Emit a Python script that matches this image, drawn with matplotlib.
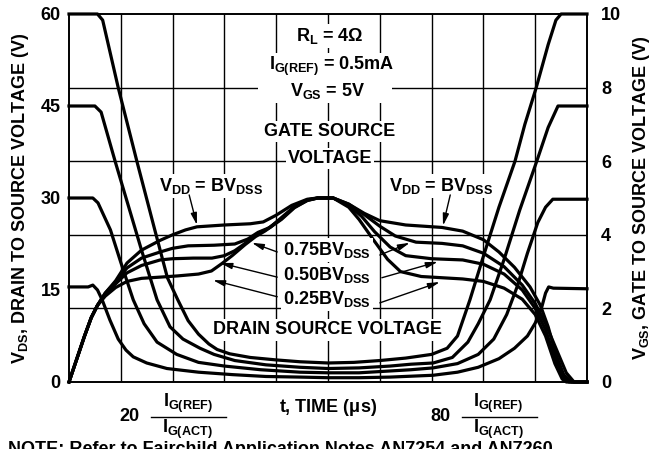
import matplotlib
matplotlib.use('Agg')
import matplotlib.pyplot as plt

plt.rcParams['font.family'] = ['Liberation Sans', 'DejaVu Sans']
plt.rcParams['font.weight'] = 'bold'
plt.rcParams['mathtext.fontset'] = 'custom'
plt.rcParams['mathtext.rm'] = 'Liberation Sans:bold'
plt.rcParams['mathtext.it'] = 'Liberation Sans:bold'
plt.rcParams['mathtext.bf'] = 'Liberation Sans:bold'
plt.rcParams['mathtext.default'] = 'rm'

# drain-source voltage curves (time us, volts), one per V_DD
vds_60_t = [0, 5.5, 6.5, 9.5, 13.1, 16.5, 19, 21, 23, 25, 27, 28.6, 31, 35, 40, 44.6, 50,
            55, 60, 65, 70, 73, 75, 77.4, 80, 83, 86.1, 88, 90.2, 92.5, 94, 95, 100]
vds_60_v = [60, 60, 59, 48, 36, 25, 17, 13.4, 10, 7.8, 6.2, 5.3, 4.6, 4.0, 3.6, 3.3, 3.1,
            3.2, 3.5, 3.9, 4.5, 5.5, 7.5, 13.4, 20.5, 28.5, 36, 42, 48, 55, 59, 60, 60]
vds_45_t = [0, 5, 6.2, 8.9, 11.4, 14, 17, 19.5, 22, 25.3, 28, 32, 38, 44.6, 50, 56, 62,
            66, 70.3, 74, 77, 79, 81.3, 84, 87, 90.3, 92.5, 94.4, 100]
vds_45_v = [45, 45, 44, 36, 28.9, 21.5, 13.4, 9, 7, 5.5, 4.5, 3.5, 2.8, 2.4, 2.2, 2.3, 2.6,
            2.9, 3.1, 4, 6.5, 9.5, 13.4, 20, 28, 36, 41.5, 45, 45]
vds_30_t = [0, 4.6, 5.6, 8, 10, 12.4, 14.5, 17, 20.8, 25, 30, 37, 44.6, 50, 56, 62, 66,
            70.3, 75, 79, 82, 84.5, 86.5, 88.5, 90.5, 92, 93.4, 100]
vds_30_v = [30, 30, 29.2, 24.8, 19.5, 13.4, 9.5, 6.5, 4.5, 3.2, 2.6, 2.0, 1.6, 1.5, 1.5,
            1.8, 2.0, 2.3, 3.0, 4.5, 7, 11, 15.5, 21, 26, 28.5, 29.8, 29.8]
vds_15_t = [0, 3.7, 4.6, 5.5, 6.4, 7.9, 9.5, 11, 12.4, 15, 18.9, 25, 31.6, 38, 44.6, 50,
            56, 62, 70.3, 75, 79, 83, 86, 88.5, 90, 91.2, 92, 92.6, 93.5, 100]
vds_15_v = [15.5, 15.5, 15.8, 15, 13.4, 10.1, 7, 5.2, 4.1, 3.1, 2.2, 1.6, 1.2, 0.9, 0.8,
            0.7, 0.7, 0.8, 1.1, 1.6, 2.4, 3.8, 5.5, 7.5, 9.6, 12, 14.5, 15.5, 15.3, 15.2]

# gate-source voltage curves, in drain-axis volts (gate volts x 6)
vgs_100_t = [0, 1, 2, 3, 4.3, 5.5, 7, 9, 11.2, 14, 17.6, 20, 22.5, 24.7, 30, 35, 37.5, 40,
             43, 46, 48, 51, 54, 57, 60, 65, 72, 76, 80, 83, 86, 89, 91, 92.5, 94, 95.5,
             97, 100]
vgs_100_v = [0, 2.5, 5, 7.5, 10.5, 12.5, 14.5, 16.5, 19.4, 21.5, 23.1, 24, 24.8, 25.3,
             25.6, 25.8, 26.1, 27.2, 28.8, 29.8, 30, 30, 29, 27.5, 26.3, 25.6, 25.2, 24.6,
             23.2, 21.2, 18.7, 15.5, 12.5, 9, 4.5, 1.2, 0, 0]
vgs_75_t = [0, 1, 2, 3, 4.3, 5.5, 7, 9, 11.2, 14, 17.6, 20, 23, 28, 32, 34.5, 36.5, 38.8,
            41, 43.5, 46, 48, 51, 54, 57, 60, 63, 67, 72, 76, 80, 84, 87.5, 90, 92, 94,
            96, 97.5, 100]
vgs_75_v = [0, 2.5, 5, 7.5, 10.5, 12.5, 14.5, 16.3, 18.6, 20.2, 21.2, 21.8, 22.2, 22.3,
            22.5, 23.3, 24.4, 25.2, 26.8, 28.6, 29.7, 30, 30, 29, 27.3, 25.4, 23.8, 22.8,
            22.6, 22.2, 21, 18.8, 15.8, 12.8, 9.5, 5.5, 1.5, 0, 0]
vgs_50_t = [0, 1, 2, 3, 4.3, 5.5, 7, 9, 11.2, 14, 17.6, 20, 24, 27.6, 30, 32, 34, 36,
            38.2, 41, 43.5, 46, 48, 51, 54, 56.5, 59, 62, 65, 70, 76, 80, 84, 87.5, 90,
            92, 93.8, 95.5, 96.5, 100]
vgs_50_v = [0, 2.5, 5, 7.5, 10.5, 12.5, 14.3, 16, 17.8, 19, 19.9, 20.1, 20.2, 20.2, 20.6,
            21.4, 22.6, 24, 24.9, 26.6, 28.5, 29.6, 30, 30, 28.8, 27, 24.5, 22, 20.6,
            20.1, 19.9, 19.2, 17.6, 15, 12, 8.5, 4, 0.8, 0, 0]
vgs_25_t = [0, 1, 2, 3, 4.3, 5.5, 7, 9, 11.2, 14, 17.6, 21, 25, 27.5, 29.5, 31.5, 34, 36,
            37.8, 41, 43.5, 46, 48, 51, 54, 56, 58.5, 61.5, 64, 68, 76, 80, 84, 87.5, 90,
            92, 93.8, 95.2, 96, 100]
vgs_25_v = [0, 2.5, 5, 7.5, 10.5, 12.5, 14, 15.4, 16.4, 16.9, 17.1, 17.3, 17.6, 18.1,
            19.3, 20.6, 22.4, 23.7, 24.6, 26.5, 28.4, 29.6, 30, 30, 28.5, 26.5, 23.5, 20,
            18, 17.2, 16.8, 16.4, 15.3, 13.5, 11, 7.5, 3, 0.5, 0, 0]

vds_ticks = [0, 15, 30, 45, 60]
vgs_ticks = [0, 2, 4, 6, 8, 10]
time_grid = [10, 20, 30, 40, 50, 60, 70, 80, 90]
time_labels = [20, 80]

FS = 13

fig = plt.figure(figsize=(6.57, 4.49), dpi=100)
ax = fig.add_axes([69 / 657, 1 - 382 / 449, 518 / 657, 368 / 449])

# grid: verticals every 10 us, horizontals on the gate axis divisions
for t in time_grid:
    ax.axvline(t, color='black', lw=1.0, zorder=1)
for g in vgs_ticks[1:-1]:
    ax.axhline(g * 6, color='black', lw=1.0, zorder=1)

curves = [(vds_60_t, vds_60_v), (vds_45_t, vds_45_v), (vds_30_t, vds_30_v),
          (vds_15_t, vds_15_v), (vgs_100_t, vgs_100_v), (vgs_75_t, vgs_75_v),
          (vgs_50_t, vgs_50_v), (vgs_25_t, vgs_25_v)]
for t, v in curves:
    ax.plot(t, v, color='black', lw=2.3, solid_joinstyle='round', zorder=3, clip_on=False)

ax.set_xlim(0, 100)
ax.set_ylim(0, 60)
ax.set_xticks([])
ax.set_yticks(vds_ticks)
ax.set_yticklabels([str(v) for v in vds_ticks], fontsize=FS, fontweight='bold')
ax.tick_params(axis='y', length=0, pad=6)
for s in ax.spines.values():
    s.set_linewidth(1.2)
ax.set_ylabel(r'V$_{DS}$, DRAIN TO SOURCE VOLTAGE (V)', fontsize=FS, fontweight='bold',
              labelpad=7)

ax2 = ax.twinx()
ax2.set_ylim(0, 10)
ax2.set_yticks(vgs_ticks)
ax2.set_yticklabels([str(v) for v in vgs_ticks], fontsize=FS, fontweight='bold')
ax2.tick_params(axis='y', length=0, pad=10)
ax2.set_ylabel(r'V$_{GS}$, GATE TO SOURCE VOLTAGE (V)', fontsize=FS, fontweight='bold',
               labelpad=7)
for s in ax2.spines.values():
    s.set_linewidth(1.2)

# x labels: "20 IG(REF)/IG(ACT)" style tick labels built as text + fraction bar
xtr = ax.get_xaxis_transform()
for tk in time_labels:
    ax.text(tk - 6.4, -0.095, str(tk), transform=xtr, ha='right', va='center',
            fontsize=FS, fontweight='bold')
    ax.text(tk + 2.9, -0.057, r'I$_{G(REF)}$', transform=xtr, ha='center', va='center',
            fontsize=FS, fontweight='bold')
    ax.text(tk + 2.9, -0.128, r'I$_{G(ACT)}$', transform=xtr, ha='center', va='center',
            fontsize=FS, fontweight='bold')
    ax.plot([tk - 4.2, tk + 10.3], [-0.095, -0.095], transform=xtr, color='black',
            lw=1.0, clip_on=False)

ax.text(0.5, -0.068, r't, TIME ($\mathregular{\mu}$s)', transform=ax.transAxes,
        ha='center', va='center', fontsize=FS, fontweight='bold')

box = dict(facecolor='white', edgecolor='none', pad=1.5)
labels = [
    (50.4, 56.4, r'R$_L$ = 4$\Omega$'),
    (50.6, 51.4, r'I$_{G(REF)}$ = 0.5mA'),
    (49.4, 47.4, r'      V$_{GS}$ = 5V      '),
    (50.4, 40.8, 'GATE SOURCE'),
    (50.4, 36.4, 'VOLTAGE'),
    (27.4, 32.0, r'V$_{DD}$ = BV$_{DSS}$'),
    (71.8, 32.0, r'V$_{DD}$ = BV$_{DSS}$'),
    (49.8, 21.5, r'0.75BV$_{DSS}$'),
    (49.8, 17.4, r'0.50BV$_{DSS}$'),
    (49.8, 13.6, r'0.25BV$_{DSS}$'),
    (50.0, 8.5, 'DRAIN SOURCE VOLTAGE'),
]
for x, y, s in labels:
    ax.text(x, y, s, ha='center', va='center', fontsize=FS, fontweight='bold',
            bbox=box, zorder=4)

arrows = [
    ((23.2, 30.5), (24.7, 25.6)),
    ((73.6, 30.5), (72.2, 25.5)),
    ((40.2, 21.2), (35.3, 22.7)),
    ((40.2, 17.1), (29.2, 19.4)),
    ((40.2, 13.9), (27.8, 16.6)),
    ((60.0, 20.7), (65.8, 22.7)),
    ((60.4, 17.0), (71.2, 19.6)),
    ((60.0, 12.9), (71.6, 16.3)),
]
for start, tip in arrows:
    ax.annotate('', xy=tip, xytext=start, zorder=5,
                arrowprops=dict(arrowstyle='-|>,head_length=0.7,head_width=0.18',
                                color='black', lw=1.0, shrinkA=0, shrinkB=0))

fig.text(8 / 657, 8 / 449, 'NOTE: Refer to Fairchild Application Notes AN7254 and AN7260.',
         ha='left', va='top', fontsize=FS, fontweight='bold')

fig.savefig('out.png', dpi=100)
